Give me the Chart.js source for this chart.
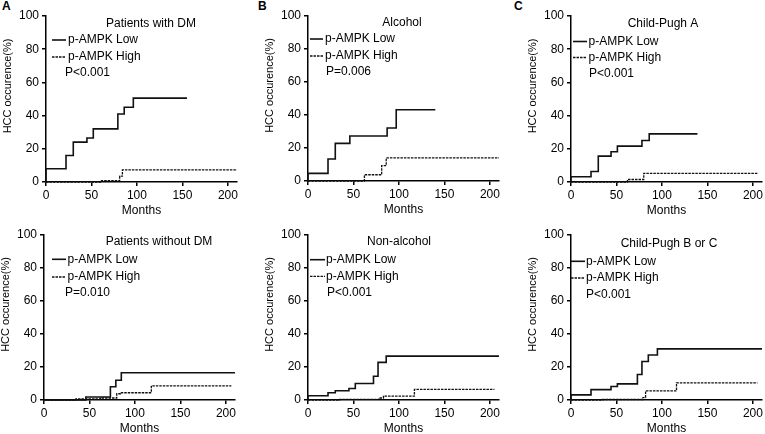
<!DOCTYPE html>
<html>
<head>
<meta charset="utf-8">
<script src="https://cdn.jsdelivr.net/npm/chart.js@4.4.0/dist/chart.umd.min.js"></script>
<style>
  body { margin: 0; background: #fff; width: 765px; height: 434px; overflow: hidden; position: relative;
         font-family: "Liberation Sans", Arial, sans-serif; }
  canvas { position: absolute; }
  .tag { position: absolute; font-weight: bold; font-size: 12px; line-height: 12px; color: #000; }
</style>
</head>
<body>
<div class="tag" style="left:2px;top:0px">A</div>
<div class="tag" style="left:258px;top:0px">B</div>
<div class="tag" style="left:514px;top:0px">C</div>

<canvas id="dm"></canvas>
<canvas id="alc"></canvas>
<canvas id="cpa"></canvas>
<canvas id="nodm"></canvas>
<canvas id="nonalc"></canvas>
<canvas id="cpbc"></canvas>

<script>
const FONT = '"Liberation Sans", Arial, sans-serif';

const monthTicks = [0, 50, 100, 150, 200];
const pctTicks = [0, 20, 40, 60, 80, 100];

// step curves: month of each event and cumulative HCC occurrence (%) after it
const dmLowMonths = [0, 0, 22, 30, 45, 52, 79, 86, 96, 155];
const dmLowPct    = [0, 8, 16, 24, 26.5, 32, 41, 45, 50.5, 50.5];
const dmHighMonths = [0, 61, 81, 84, 210];
const dmHighPct    = [0, 0.8, 3.5, 7.3, 7.3];

const alcLowMonths = [0, 0, 22, 30, 46, 87, 97, 140];
const alcLowPct    = [0, 4.6, 13.3, 22.8, 27.3, 32.1, 43.2, 43.2];
const alcHighMonths = [0, 62, 81, 86, 210];
const alcHighPct    = [0, 3.8, 9.3, 14, 14];

const cpaLowMonths = [0, 0, 22, 30, 44, 51, 78, 86, 139];
const cpaLowPct    = [0, 3.2, 6.3, 15.6, 18.2, 21.6, 25, 29, 29];
const cpaHighMonths = [0, 62, 80, 205];
const cpaHighPct    = [0, 1.5, 5.2, 5.2];

const noDmLowMonths = [0, 46, 73, 79, 85, 210];
const noDmLowPct    = [0, 1.8, 8, 12, 16.5, 16.5];
const noDmHighMonths = [0, 35, 62, 80, 84, 118, 206];
const noDmHighPct    = [0, 0.6, 1.2, 3.8, 4.4, 8.6, 8.6];

const nonAlcLowMonths = [0, 0, 22, 30, 45, 52, 72, 77, 86, 210];
const nonAlcLowPct    = [0, 2.6, 4.4, 5.6, 7, 10, 14.4, 22.8, 26.6, 26.6];
const nonAlcHighMonths = [0, 35, 78, 83, 117, 205];
const nonAlcHighPct    = [0, 0.4, 1.2, 2.4, 6.4, 6.4];

const cpbcLowMonths = [0, 0, 22, 44, 51, 73, 78, 85, 95, 210];
const cpbcLowPct    = [0, 3.1, 6.3, 8.2, 9.8, 15.5, 23.3, 27.3, 31, 31];
const cpbcHighMonths = [0, 35, 79, 82, 116, 205];
const cpbcHighPct    = [0, 0.3, 1.5, 5.5, 10.4, 10.4];

const panels = [
  { id: 'dm', title: 'Patients with DM', p: 'P<0.001', low: [dmLowMonths, dmLowPct], high: [dmHighMonths, dmHighPct],
    left: 46, top: 16, h: 166, txt: { tx: 105, ty: 8, lx0: 6, lx1: 20, ly: 24, hy: 41, textX: 22, px: 19, py: 57 } },
  { id: 'alc', title: 'Alcohol', p: 'P=0.006', low: [alcLowMonths, alcLowPct], high: [alcHighMonths, alcHighPct],
    left: 308, top: 16, h: 165, txt: { tx: 94, ty: 7, lx0: 2, lx1: 15, ly: 23, hy: 40, textX: 17, px: 18, py: 56 } },
  { id: 'cpa', title: 'Child-Pugh A', p: 'P<0.001', low: [cpaLowMonths, cpaLowPct], high: [cpaHighMonths, cpaHighPct],
    left: 571, top: 16, h: 166, txt: { tx: 92, ty: 8, lx0: 2, lx1: 16, ly: 25.5, hy: 41.5, textX: 17.5, px: 18, py: 58 } },
  { id: 'nodm', title: 'Patients without DM', p: 'P=0.010', low: [noDmLowMonths, noDmLowPct], high: [noDmHighMonths, noDmHighPct],
    left: 44, top: 235, h: 165, txt: { tx: 115, ty: 7, lx0: 8, lx1: 22, ly: 24.3, hy: 42, textX: 23.5, px: 21, py: 58 } },
  { id: 'nonalc', title: 'Non-alcohol', p: 'P<0.001', low: [nonAlcLowMonths, nonAlcLowPct], high: [nonAlcHighMonths, nonAlcHighPct],
    left: 308, top: 235, h: 165, txt: { tx: 91, ty: 7, lx0: 2, lx1: 17, ly: 24.7, hy: 41.3, textX: 18, px: 19, py: 58 } },
  { id: 'cpbc', title: 'Child-Pugh B or C', p: 'P<0.001', low: [cpbcLowMonths, cpbcLowPct], high: [cpbcHighMonths, cpbcHighPct],
    left: 571, top: 235, h: 165, txt: { tx: 98, ty: 8.7, lx0: 0, lx1: 14, ly: 26.3, hy: 43, textX: 15, px: 15, py: 59.7 } }
];

const Y_AXIS_W = 46, X_AXIS_H = 36, PAD_TOP = 16, PLOT_W = 191, PAD_RIGHT = 4;
const HIGH_DASH = [2.5, 1];

// in-plot labels, legend samples and the y axis title
const panelText = {
  id: 'panelText',
  afterDraw(chart, args, o) {
    const ctx = chart.ctx, a = chart.chartArea;
    ctx.save();
    ctx.fillStyle = '#000';
    ctx.strokeStyle = '#111';
    ctx.font = '12px ' + FONT;
    ctx.textBaseline = 'middle';
    ctx.textAlign = 'center';
    ctx.fillText(o.title, a.left + o.tx, a.top + o.ty);

    ctx.lineWidth = 1.6;
    ctx.beginPath();
    ctx.moveTo(a.left + o.lx0, a.top + o.ly);
    ctx.lineTo(a.left + o.lx1, a.top + o.ly);
    ctx.stroke();
    ctx.lineWidth = 1.3;
    ctx.setLineDash(HIGH_DASH);
    ctx.beginPath();
    ctx.moveTo(a.left + o.lx0, a.top + o.hy);
    ctx.lineTo(a.left + o.lx1, a.top + o.hy);
    ctx.stroke();
    ctx.setLineDash([]);

    ctx.textAlign = 'left';
    ctx.fillText('p-AMPK Low', a.left + o.textX, a.top + o.ly);
    ctx.fillText('p-AMPK High', a.left + o.textX, a.top + o.hy);
    ctx.fillText(o.p, a.left + o.px, a.top + o.py);

    ctx.font = '11px ' + FONT;
    ctx.translate(a.left - 38, (a.top + a.bottom) / 2 - 13);
    ctx.rotate(-Math.PI / 2);
    ctx.textAlign = 'center';
    ctx.fillText('HCC occurence(%)', 0, 0);
    ctx.restore();
  }
};

function pts(series) {
  return series[0].map((m, i) => ({ x: m, y: series[1][i] }));
}

panels.forEach(p => {
  const cv = document.getElementById(p.id);
  const w = Y_AXIS_W + PLOT_W + PAD_RIGHT;
  const h = PAD_TOP + p.h + X_AXIS_H;
  cv.width = w; cv.height = h;
  cv.style.width = w + 'px'; cv.style.height = h + 'px';
  cv.style.left = (p.left - Y_AXIS_W) + 'px';
  cv.style.top = (p.top - PAD_TOP) + 'px';

  new Chart(cv, {
    type: 'line',
    data: {
      datasets: [
        { label: 'p-AMPK Low', data: pts(p.low), borderColor: '#111', borderWidth: 1.6,
          stepped: 'before', pointRadius: 0, fill: false, clip: false },
        { label: 'p-AMPK High', data: pts(p.high), borderColor: '#111', borderWidth: 1.3,
          borderDash: HIGH_DASH, stepped: 'before', pointRadius: 0, fill: false, clip: false }
      ]
    },
    options: {
      responsive: false,
      animation: false,
      events: [],
      layout: { padding: { left: 0, top: PAD_TOP, right: PAD_RIGHT, bottom: 0 } },
      plugins: {
        legend: { display: false },
        tooltip: { enabled: false },
        panelText: Object.assign({ title: p.title, p: p.p }, p.txt)
      },
      scales: {
        x: {
          type: 'linear', min: 0, max: 210,
          afterBuildTicks: s => { s.ticks = monthTicks.map(v => ({ value: v })); },
          afterFit: s => { s.height = X_AXIS_H; s.paddingLeft = 0; s.paddingRight = 0; },
          grid: { display: true, drawOnChartArea: false, tickLength: 4, color: '#000', lineWidth: 1.5 },
          border: { color: '#000', width: 1.5 },
          ticks: { color: '#000', font: { family: FONT, size: 12 }, padding: 2, maxRotation: 0, autoSkip: false },
          title: { display: true, text: 'Months', color: '#000', font: { family: FONT, size: 12 }, padding: 0 }
        },
        y: {
          type: 'linear', min: 0, max: 100,
          afterBuildTicks: s => { s.ticks = pctTicks.map(v => ({ value: v })); },
          afterFit: s => { s.width = Y_AXIS_W; s.paddingTop = 0; s.paddingBottom = 0; },
          grid: { display: true, drawOnChartArea: false, tickLength: 4, color: '#000', lineWidth: 1.5 },
          border: { color: '#000', width: 1.5 },
          ticks: { color: '#000', font: { family: FONT, size: 12 }, padding: 3, autoSkip: false }
        }
      }
    },
    plugins: [panelText]
  });
});
</script>
</body>
</html>
